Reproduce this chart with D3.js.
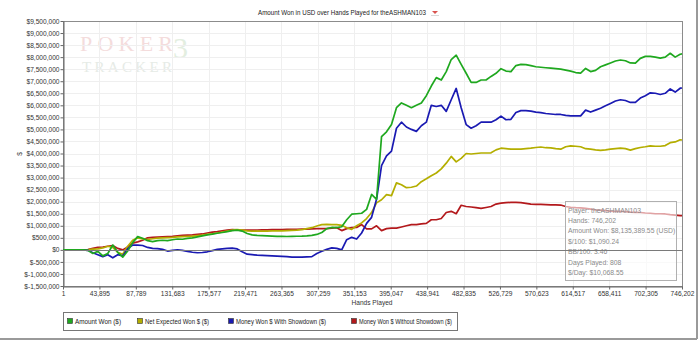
<!DOCTYPE html>
<html><head><meta charset="utf-8">
<script src="https://cdn.jsdelivr.net/npm/d3@7"></script>
<style>
html,body{margin:0;padding:0;background:#fff;}
svg{display:block;font-family:"Liberation Sans",Arial,sans-serif;}
</style></head><body>
<svg id="chart" width="700" height="342"></svg>
<script>
// Hands played at each sample
const hands = [1,6000,12000,18000,24000,30000,36000,42000,48000,54000,60000,66000,72000,78000,84000,90000,96000,102000,108000,114000,
120000,126000,132000,138000,144000,150000,156000,162000,168000,174000,180000,186000,192000,198000,204000,210000,216000,222000,228000,234000,
240000,246000,252000,258000,264000,270000,276000,282000,288000,294000,300000,306000,312000,318000,324000,330000,336000,342000,348000,354000,
360000,366000,372000,378000,384000,390000,396000,402000,408000,414000,420000,426000,432000,438000,444000,450000,456000,462000,468000,474000,
480000,486000,492000,498000,504000,510000,516000,522000,528000,534000,540000,546000,552000,558000,564000,570000,576000,582000,588000,594000,
600000,606000,612000,618000,624000,630000,636000,642000,648000,654000,660000,666000,672000,678000,684000,690000,696000,702000,708000,714000,
720000,726000,732000,738000,744000,746202];

// Cumulative results in thousands of USD
const amountWon = [0,0,0,0,0,-20,-150,-60,-250,-150,200,-100,-300,-50,300,550,480,380,340,380,
400,380,420,450,440,480,500,540,580,620,650,690,720,760,800,820,780,680,620,600,
590,580,570,560,560,555,560,565,570,580,600,640,720,880,930,920,960,1250,1480,1500,
1520,1680,2300,2100,4700,4900,5200,5900,6100,6000,5900,6000,6100,6400,6800,7150,7050,7400,7900,8080,
7700,7330,6950,6950,7050,7050,7200,7330,7520,7420,7400,7650,7700,7690,7650,7600,7580,7560,7540,7520,
7500,7460,7420,7360,7340,7530,7400,7450,7600,7680,7760,7840,7880,7850,7760,7750,7950,8030,8030,8000,
7960,8000,8160,8000,8120,8135];

const netExpectedWon = [0,0,0,0,0,0,30,40,80,150,100,-100,-180,150,400,500,450,430,460,490,
500,510,520,540,550,560,570,590,610,640,670,700,740,780,820,840,820,790,780,780,
780,780,790,790,790,800,810,820,840,880,920,990,1050,1060,1050,1050,1020,920,850,1000,
1120,1300,1550,1950,2080,2290,2250,2780,2700,2580,2600,2650,2830,2950,3080,3190,3360,3600,3880,3650,
3800,4000,3980,4000,4020,4020,4030,4150,4220,4200,4180,4180,4180,4200,4220,4250,4270,4240,4230,4200,
4180,4280,4320,4300,4280,4200,4180,4150,4130,4150,4180,4200,4220,4200,4140,4200,4250,4280,4320,4300,
4300,4330,4450,4480,4570,4560];

const wonWithShowdown = [0,0,0,0,0,-20,-120,-200,-280,-200,-330,-200,-250,50,200,200,180,100,60,50,
20,-50,-20,0,-20,-60,-100,-120,-110,-80,-30,20,40,60,70,40,-80,-180,-200,-220,
-230,-240,-250,-260,-270,-280,-300,-300,-300,-290,-280,-150,-60,20,80,60,0,420,520,450,
700,1100,1350,2100,3500,3900,4100,5050,5300,5100,5000,4920,5150,5300,6000,5950,6000,5750,6230,6700,
5900,5200,5050,5150,5300,5300,5300,5400,5550,5400,5420,5700,5780,5780,5760,5720,5700,5660,5640,5620,
5620,5580,5560,5560,5560,5800,5720,5800,5880,5980,6080,6180,6230,6200,6120,6120,6300,6400,6520,6500,
6450,6500,6680,6550,6710,6720];

const wonWithoutShowdown = [0,0,0,0,0,10,60,100,120,150,180,60,0,120,280,330,400,500,520,530,
540,550,560,580,600,610,620,640,660,700,740,760,790,820,840,830,820,820,820,825,
830,830,840,840,845,850,850,855,860,860,870,880,880,880,900,920,800,880,920,930,
1050,870,870,1000,800,880,900,900,950,1000,1050,1050,1080,1100,1250,1250,1300,1550,1600,1500,
1850,1800,1780,1750,1720,1760,1800,1900,1940,1960,1970,1970,1960,1930,1900,1890,1890,1880,1870,1870,
1860,1800,1770,1750,1740,1720,1690,1660,1650,1630,1610,1600,1600,1590,1570,1560,1550,1530,1520,1500,
1500,1490,1460,1440,1420,1420];

const seriesNames = ["Amount Won ($)","Net Expected Won $ ($)","Money Won $ With Showdown ($)","Money Won $ Without Showdown ($)"];
const seriesColors = ["#1fa81f","#b4ae00","#1a1ab2","#b3191c"];
const seriesValues = [amountWon, netExpectedWon, wonWithShowdown, wonWithoutShowdown];

const yTickValues = [-1500,-1000,-500,0,500,1000,1500,2000,2500,3000,3500,4000,4500,5000,5500,6000,6500,7000,7500,8000,8500,9000,9500];
const yTickLabels = ["$-1,500,000","$-1,000,000","$-500,000","$0","$500,000","$1,000,000","$1,500,000","$2,000,000","$2,500,000","$3,000,000","$3,500,000","$4,000,000","$4,500,000","$5,000,000","$5,500,000","$6,000,000","$6,500,000","$7,000,000","$7,500,000","$8,000,000","$8,500,000","$9,000,000","$9,500,000"];
const xTickValues = [1,43895,87789,131683,175577,219471,263365,307259,351153,395047,438941,482835,526729,570623,614517,658411,702305,746202];
const xTickLabels = ["1","43,895","87,789","131,683","175,577","219,471","263,365","307,259","351,153","395,047","438,941","482,835","526,729","570,623","614,517","658,411","702,305","746,202"];

const infoLines = ["Player: theASHMAN103","Hands: 746,202","Amount Won: $8,135,389.55 (USD)","$/100: $1,090.24","BB/100: 3.46","Days Played: 808","$/Day: $10,068.55"];

const svg = d3.select("#chart");
const plot = {left: 63, right: 682, top: 21, bottom: 286};

const x = d3.scaleLinear().domain([1, 746202]).range([plot.left, plot.right]);
const y = d3.scaleLinear().domain([-1500, 9500]).range([plot.bottom, plot.top]);

// outer frame edges
svg.append("line").attr("x1",697).attr("x2",697).attr("y1",0).attr("y2",339).attr("stroke","#9a9a9a").attr("stroke-width",2);
svg.append("line").attr("x1",0).attr("x2",697).attr("y1",339).attr("y2",339).attr("stroke","#9a9a9a").attr("stroke-width",2);

// watermark
const wm = svg.append("g").attr("font-family","'Liberation Serif','DejaVu Serif',serif");
wm.append("text").attr("x",80).attr("y",51).attr("font-size",22).attr("fill","#f4dcdc")
  .attr("textLength",93).attr("lengthAdjust","spacing").text("POKER");
wm.append("text").attr("x",173).attr("y",58).attr("font-size",30).attr("fill","#e3eee0").text("3");
wm.append("text").attr("x",82).attr("y",72).attr("font-size",15).attr("fill","#e6ebe6")
  .attr("textLength",90).attr("lengthAdjust","spacing").text("TRACKER");

// grid
const grid = svg.append("g").attr("stroke","#efefef").attr("stroke-width",1);
grid.selectAll(".gy").data(yTickValues).join("line")
  .attr("x1",plot.left).attr("x2",plot.right)
  .attr("y1",d=>Math.round(y(d))+0.5).attr("y2",d=>Math.round(y(d))+0.5);
grid.selectAll(".gx").data(xTickValues).join("line")
  .attr("y1",plot.top).attr("y2",plot.bottom)
  .attr("x1",d=>Math.round(x(d))+0.5).attr("x2",d=>Math.round(x(d))+0.5);

// plot border
svg.append("rect").attr("x",plot.left+0.5).attr("y",plot.top+0.5)
  .attr("width",plot.right-plot.left).attr("height",plot.bottom-plot.top)
  .attr("fill","none").attr("stroke","#8c8c8c");

// axes
const yAxis = d3.axisLeft(y).tickValues(yTickValues).tickSize(3).tickSizeOuter(0)
  .tickFormat((d,i)=>yTickLabels[i]);
const gy = svg.append("g").attr("transform",`translate(${plot.left+0.5},0)`).call(yAxis);
const xAxis = d3.axisBottom(x).tickValues(xTickValues).tickSize(3).tickSizeOuter(0)
  .tickFormat((d,i)=>xTickLabels[i]);
const gx = svg.append("g").attr("transform",`translate(0,${plot.bottom+0.5})`).call(xAxis);
[gy,gx].forEach(g=>{
  g.selectAll(".domain").attr("stroke","#666");
  g.selectAll(".tick line").attr("stroke","#666");
  g.selectAll(".tick text").attr("fill","#333").attr("font-size",6.6).attr("font-family","'Liberation Sans',Arial,sans-serif");
});
gy.selectAll(".tick text").attr("x",-4);
gx.selectAll(".tick text").attr("y",5);

// series lines
const line = d3.line().x((d,i)=>x(hands[i])).y(d=>y(d));
const order = [3,1,2,0];
order.forEach(s=>{
  svg.append("path").datum(seriesValues[s]).attr("d",line)
    .attr("fill","none").attr("stroke",seriesColors[s]).attr("stroke-width",1.7)
    .attr("stroke-linejoin","round");
});

// info box
const ib = svg.append("g");
ib.append("rect").attr("x",565.5).attr("y",201.5).attr("width",111).attr("height",79)
  .attr("fill","#ffffff").attr("fill-opacity",0.6).attr("stroke","#b0b0b0");
ib.selectAll("text").data(infoLines).join("text")
  .attr("x",568).attr("y",(d,i)=>212.5+i*10.4)
  .attr("font-size",6.8).attr("fill","#8a8a8a").text(d=>d);

// zero line
svg.append("line").attr("x1",plot.left).attr("x2",plot.right)
  .attr("y1",Math.round(y(0))+0.5).attr("y2",Math.round(y(0))+0.5)
  .attr("stroke","#7a7a7a").attr("stroke-width",1);

// title with its dropdown marker
svg.append("text").attr("x",258).attr("y",15)
  .attr("font-size",6.6).attr("fill","#222")
  .attr("textLength",168).attr("lengthAdjust","spacingAndGlyphs")
  .text("Amount Won in USD over Hands Played for theASHMAN103");
svg.append("path").attr("d","M432,11 L438,11 L435,14 Z").attr("fill","#d9534f");
svg.append("line").attr("x1",431).attr("x2",439).attr("y1",15.5).attr("y2",15.5).attr("stroke","#d8d8d8");

// axis titles
svg.append("text").attr("transform","translate(22,154) rotate(-90)").attr("text-anchor","middle")
  .attr("font-size",6.6).attr("fill","#333").text("$");
svg.append("text").attr("x",372).attr("y",305).attr("text-anchor","middle")
  .attr("font-size",6.6).attr("fill","#333").text("Hands Played");

// legend
const lg = svg.append("g");
lg.append("rect").attr("x",63.5).attr("y",312.5).attr("width",394).attr("height",18)
  .attr("fill","#fff").attr("stroke","#777");
const legendX = [67,137,228,351];
const legendTextWidth = [46,64,90,93];
seriesNames.forEach((name,i)=>{
  lg.append("rect").attr("x",legendX[i]+0.5).attr("y",318.5).attr("width",5).attr("height",5)
    .attr("fill",seriesColors[i]).attr("stroke","#333").attr("stroke-width",0.6);
  lg.append("text").attr("x",legendX[i]+8).attr("y",323.5).attr("font-size",6.4).attr("fill","#222")
    .attr("textLength",legendTextWidth[i]).attr("lengthAdjust","spacingAndGlyphs").text(name);
});
</script>
</body></html>
